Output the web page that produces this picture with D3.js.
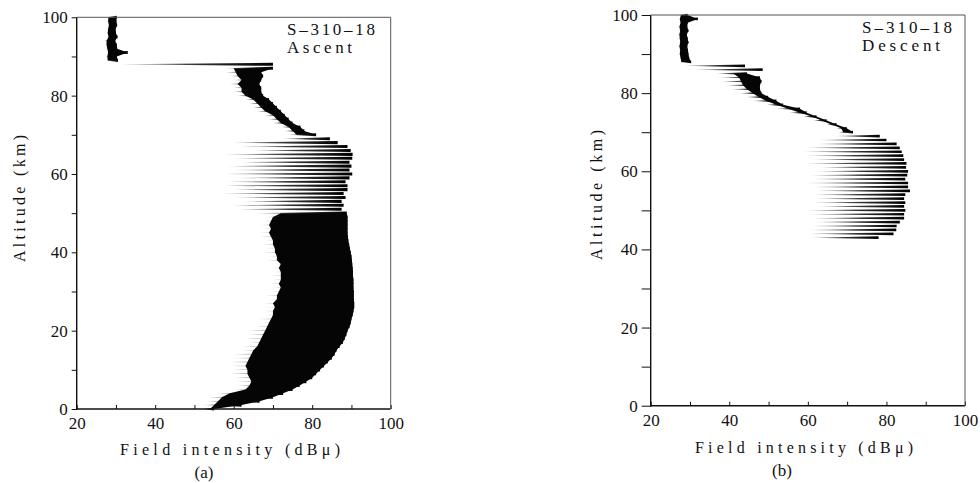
<!DOCTYPE html>
<html lang="en">
<head>
<meta charset="UTF-8">
<title>S-310-18 field intensity profiles</title>
<script src="https://d3js.org/d3.v7.min.js"></script>
<style>
  body { margin: 0; background: #fff; }
  svg { display: block; background: #fff; }
  text { font-family: "Liberation Serif", "DejaVu Serif", serif; fill: #111; }
</style>
</head>
<body>
<svg width="980" height="483"></svg>
<script>
// altitude sampling grid (km), one row per km
const altKm = d3.range(0, 101);
const xLabelTicks = [20, 40, 60, 80, 100];
const yLabelTicks = [0, 20, 40, 60, 80, 100];

// ---- ascent: left tip of each spike, left edge of the solid trace, right edge (dBu)
const ascLo = [
  52.2, 52.5, 53, 53.5, 55.5, 60.5, 60.7, 61, 60, 59,
  59.5, 59, 59.2, 60, 59.8, 62, 62.4, 63, 63.2, 63.5,
  64, 65, 67.5, 66, 68, 67.5, 68.5, 67.5, 69, 68,
  69.6, 70, 69, 70, 69.5, 70.2, 69.3, 70, 68.5, 69,
  67.5, 68.4, 67, 68, 66.7, 66.6, 67.5, 66.7, 67.2, 68,
  66, 61, 60, 62, 60, 57, 60, 57.5, 58.5, 61,
  57.5, 60, 58.5, 62, 60, 57.5, 64, 62, 60, 72.5,
  74, 73, 72, 70, 69, 68, 66, 65, 64, 63,
  61, 60, 60, 59, 60, 59, 58, 58, 31, 27.6,
  27.4, 27.6, 27.4, 27.2, 27.1, 27.8, 27.4, 27.6, 27.9, 27.6,
  27.8
];
const ascCore = [
  54, 55, 56, 57, 59, 63, 64, 64.5, 64, 63.5,
  63.5, 63, 63.5, 64, 64.5, 65, 66, 66.5, 67, 67.5,
  68, 68.5, 69, 69.5, 70, 70, 70.5, 70, 71, 71,
  71.5, 72, 71.5, 72, 72, 72, 71.5, 72, 71, 71,
  70.5, 70.5, 70, 70, 69.5, 69, 69.5, 69, 69.5, 70,
  72, null, null, null, null, null, null, null, null, null,
  null, null, null, null, null, null, null, null, null, null,
  76, 75, 74, 72, 71, 70, 68, 67, 66, 65,
  63, 62, 62, 61, 62, 61, 60.5, 60, null, 27.9,
  27.8, 28, 27.8, 27.6, 27.6, 28.1, 27.9, 28, 28.2, 28,
  28.1
];
const ascHi = [
  55, 62, 66.6, 70, 72.6, 75, 76.8, 78.5, 80, 81,
  82, 83, 84, 85, 85.7, 86.2, 87, 87.8, 88.3, 88.7,
  89, 89.5, 89.8, 90, 90.3, 90.5, 90.7, 90.7, 90.6, 90.6,
  90.6, 90.5, 90.5, 90.5, 90.4, 90.4, 90.3, 90.2, 90.1, 90,
  89.8, 89.6, 89.4, 89.2, 89.1, 89, 89, 89, 89, 89,
  88.8, 87.5, 88, 87.5, 88.5, 88, 89, 89, 88.5, 89.5,
  90.2, 89.5, 90, 89.5, 90.2, 90.3, 89.8, 89, 86.5, 84.5,
  81, 78, 77, 75, 74, 73, 72, 71, 70, 69,
  67.5, 67, 67, 66.5, 67, 67.5, 67, 70, 70, 30.5,
  30.2, 33, 30.3, 30.2, 29.8, 30.4, 30, 29.9, 30.3, 30.1,
  30.2
];

// ---- descent: no signal recorded below 43 km
const noData = Array(43).fill(null);
const descLo = noData.concat([
  61, 60.2, 60.5, 61, 62, 61.4, 60.6,
  59.7, 63, 61.4, 62.2, 61.4, 62.2, 61.4, 59.7, 61.4, 60.6,
  62.2, 63, 59.7, 61.4, 59.7, 58.8, 59.7, 62.2, 63, 67.3,
  67.7, 67.3, 64.8, 61.4, 58.8, 55.4, 52, 49.5, 46.1, 44.4,
  42.7, 40.6, 39.3, 38, 37.6, 36.8, 31.3, 28.5, 27.4, 27.2,
  27, 27.1, 26.9, 27.1, 27, 26.8, 27.1, 26.9, 27.2, 27,
  27.3
]);
const descCore = noData.concat([
  null, null, null, null, null, null, null,
  null, null, null, null, null, null, null, null, null, null,
  null, null, null, null, null, null, null, null, null, null,
  69, 68.5, 66, 63.5, 61, 58, 55, 52, 49.5, 47.5,
  46, 44.5, 43.5, 43, 42.5, 41, null, null, 27.8, 27.6,
  27.4, 27.5, 27.3, 27.5, 27.4, 27.3, 27.5, 27.3, 27.6, 27.4,
  27.7
]);
const descHi = noData.concat([
  78, 81.8, 82.5, 82.6, 83.4, 84.5, 84.5,
  84.8, 84.5, 84.8, 84.5, 84.8, 86, 85.5, 85.5, 84.8, 85.3,
  85.5, 85, 85.1, 84.5, 84.3, 83.9, 83.4, 82.6, 80, 78.3,
  71.5, 69.9, 67.3, 64.8, 62.2, 59.7, 58, 53.7, 52, 49.9,
  48.2, 47.8, 47.8, 48.2, 47.8, 44.5, 48.5, 44, 30.3, 29.8,
  29.6, 29.5, 29.3, 29.6, 29.4, 29.2, 29.6, 29.3, 29.4, 32,
  29.4
]);

const svg = d3.select("svg");

// spikes fade from grey at the tip to black at the strong end
const grad = svg.append("defs").append("linearGradient")
  .attr("id", "spikeGrad").attr("x1", 0).attr("x2", 1).attr("y1", 0).attr("y2", 0);
grad.append("stop").attr("offset", "0%").attr("stop-color", "#b0b0b0");
grad.append("stop").attr("offset", "50%").attr("stop-color", "#333");
grad.append("stop").attr("offset", "100%").attr("stop-color", "#000");

const panels = [
  { left: 76.7, right: 390.7, top: 17.3, bottom: 409, lo: ascLo, core: ascCore, hi: ascHi,
    spikeH: 1.55,
    tag: "Ascent", tagLen: 65, idLen: 88, tagX: 287, idY: 35, tagY: 53,
    yTick: 5, yPad: 4, xPad: 8,
    yTitleX: 25, yTitleY: 262, yTitleLen: 127,
    xTitleX: 120, xTitleY: 455, xTitleLen: 220,
    cap: "(a)", capX: 204, capY: 478 },
  { left: 650.7, right: 965, top: 15, bottom: 405.7, lo: descLo, core: descCore, hi: descHi,
    spikeH: 1.35,
    tag: "Descent", tagLen: 78, idLen: 90, tagX: 862, idY: 33, tagY: 51,
    yTick: 9, yPad: 4, xPad: 8,
    yTitleX: 602, yTitleY: 260, yTitleLen: 130,
    xTitleX: 695, xTitleY: 453, xTitleLen: 218,
    cap: "(b)", capX: 782, capY: 476 }
];

panels.forEach(function (p) {
  const x = d3.scaleLinear().domain([20, 100]).range([p.left, p.right]);
  const y = d3.scaleLinear().domain([0, 100]).range([p.bottom, p.top]);
  const g = svg.append("g");

  const rows = altKm.map((a, i) => ({ a: a, lo: p.lo[i], core: p.core[i], hi: p.hi[i] }));

  // one spike per sample, thin at the weak tip
  g.selectAll("path.spike")
    .data(rows.filter(d => d.lo != null && d.hi != null))
    .join("path")
    .attr("class", "spike")
    .attr("d", function (d) {
      const yy = y(d.a);
      return "M" + x(d.lo) + "," + yy + "L" + x(d.hi) + "," + (yy - p.spikeH) +
        "L" + x(d.hi) + "," + (yy + p.spikeH) + "Z";
    })
    .attr("fill", "url(#spikeGrad)");

  // solid body of the trace, over the spikes
  g.append("path").datum(rows)
    .attr("d", d3.area()
      .defined(d => d.core != null && d.hi != null)
      .y(d => y(d.a))
      .x0(d => x(d.core))
      .x1(d => x(d.hi)))
    .attr("fill", "#050505");

  // axes
  const xAxis = d3.axisBottom(x)
    .tickValues(d3.range(20, 101, 10))
    .tickSize(-4)
    .tickPadding(p.xPad)
    .tickFormat(d => xLabelTicks.includes(d) ? d : "");
  const gx = g.append("g").attr("transform", "translate(0," + p.bottom + ")").call(xAxis);

  const yAxis = d3.axisLeft(y)
    .tickValues(d3.range(0, 101, 10))
    .tickSize(p.yTick)
    .tickPadding(p.yPad)
    .tickFormat(d => yLabelTicks.includes(d) ? d : "");
  const gy = g.append("g").attr("transform", "translate(" + p.left + ",0)").call(yAxis);

  [gx, gy].forEach(function (a) {
    a.select(".domain").remove();
    a.selectAll("line").attr("stroke", "#111").attr("stroke-width", 1);
    a.selectAll("text").attr("font-size", 17).attr("fill", "#111");
  });

  // frame: heavy left/bottom, light top/right
  g.append("line").attr("x1", p.left).attr("x2", p.left).attr("y1", p.top).attr("y2", p.bottom + 1)
    .attr("stroke", "#111").attr("stroke-width", 1.4);
  g.append("line").attr("x1", p.left).attr("x2", p.right).attr("y1", p.bottom).attr("y2", p.bottom)
    .attr("stroke", "#111").attr("stroke-width", 1.4);
  g.append("line").attr("x1", p.left).attr("x2", p.right).attr("y1", p.top).attr("y2", p.top)
    .attr("stroke", "#555").attr("stroke-width", 1);
  g.append("line").attr("x1", p.right).attr("x2", p.right).attr("y1", p.top).attr("y2", p.bottom)
    .attr("stroke", "#555").attr("stroke-width", 1);

  // rocket label
  g.append("text").attr("x", p.tagX).attr("y", p.idY).attr("font-size", 17)
    .attr("textLength", p.idLen).attr("lengthAdjust", "spacing").text("S–310–18");
  g.append("text").attr("x", p.tagX).attr("y", p.tagY).attr("font-size", 17)
    .attr("textLength", p.tagLen).attr("lengthAdjust", "spacing").text(p.tag);

  // axis titles
  g.append("text").attr("x", p.xTitleX).attr("y", p.xTitleY).attr("font-size", 16)
    .attr("textLength", p.xTitleLen).attr("lengthAdjust", "spacing")
    .text("Field  intensity (dBμ)");
  g.append("text").attr("transform", "translate(" + p.yTitleX + "," + p.yTitleY + ") rotate(-90)")
    .attr("font-size", 16).attr("textLength", p.yTitleLen).attr("lengthAdjust", "spacing")
    .text("Altitude (km)");
  g.append("text").attr("x", p.capX).attr("y", p.capY).attr("font-size", 17)
    .attr("text-anchor", "middle").text(p.cap);
});
</script>
</body>
</html>
